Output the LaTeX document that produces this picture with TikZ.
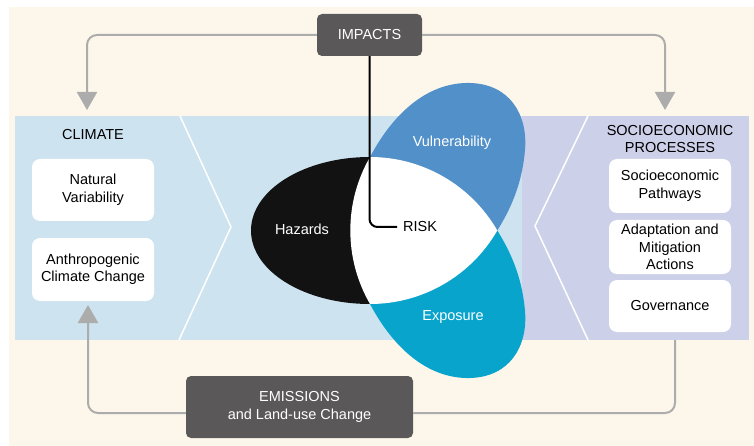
\documentclass[tikz,border=0pt]{standalone}
\usepackage{fontspec}
\setmainfont{Liberation Sans}
\usetikzlibrary{arrows.meta}
\definecolor{cream}{RGB}{253,247,235}
\definecolor{bandblue}{RGB}{205,227,240}
\definecolor{bandlav}{RGB}{205,208,233}
\definecolor{vulblue}{RGB}{81,144,200}
\definecolor{expblue}{RGB}{8,164,204}
\definecolor{boxgray}{RGB}{90,88,89}
\definecolor{linegray}{RGB}{172,172,172}

\begin{document}
\begin{tikzpicture}[x=1pt, y=-1pt,
	every node/.style={font=\fontsize{14.5}{17.5}\selectfont, align=center},
	whitebox/.style={fill=white, rounded corners=8pt, minimum width=122pt, inner sep=0pt},
	darkbox/.style={fill=boxgray, rounded corners=5pt, text=white, inner sep=0pt},
	loopline/.style={draw=linegray, line width=2pt, rounded corners=10pt},
	looptip/.style={-{Triangle[width=20pt,length=18pt,fill=linegray]}}]
	\useasboundingbox (0,0) rectangle (754,446);
	\fill [white] (0,0) rectangle (754,446);
	\fill [cream] (9,7) rectangle (754,446);
	
	% the band
	\fill [bandblue] (15,116) rectangle (522,340);
	\fill [bandlav] (522,116) rectangle (749,340);
	\draw [white, line width=1.5pt] (180,116)--(231,227)--(179,340);
	\draw [white, line width=1.5pt] (588,116)--(535,226)--(588,340);
	
	\node (climate) at (93,135) {CLIMATE};
	\node [whitebox, minimum height=62pt] (natvar) at (93,190) {Natural\\Variability};
	\node [whitebox, minimum height=63pt] (anthro) at (93,269.5) {Anthropogenic\\Climate Change};
	
	\node (socio) at (670,139) {SOCIOECONOMIC\\PROCESSES};
	\node [whitebox, minimum height=54pt] (pathways) at (670,186) {Socioeconomic\\Pathways};
	\node [whitebox, minimum height=54pt] (adapt) at (670,247) {Adaptation and\\Mitigation\\Actions};
	\node [whitebox, minimum height=52pt] (govern) at (670,306) {Governance};
	
	% hazards, vulnerability, exposure and risk
	\fill [black!93] (370,157) arc [start angle=-90, end angle=-270, x radius=119, y radius=73.5] -- cycle;
	\fill [vulblue] (370,157) .. controls (395,110) and (430,82) .. (470,83)
		.. controls (510,84) and (528,115) .. (525,150)
		.. controls (522,185) and (510,210) .. (497.3,230.5) -- cycle;
	\fill [expblue] (370,304) .. controls (395,351) and (430,379) .. (470,378)
		.. controls (510,377) and (528,346) .. (525,311)
		.. controls (522,276) and (510,251) .. (497.3,230.5) -- cycle;
	\fill [white] (370,157) arc [start angle=-90, end angle=-30, radius=147]
		arc [start angle=30, end angle=90, radius=147]
		arc [start angle=150, end angle=210, radius=147] -- cycle;
	
	\node [text=white] (hazards) at (302,229) {Hazards};
	\node [text=white] (vuln) at (452,143) {Vulnerability};
	\node [text=white] (expo) at (453,317) {Exposure};
	\node [anchor=west, inner xsep=6pt, inner ysep=2pt] (risk) at (397,227) {RISK};
	
	\node [darkbox, minimum width=105pt, minimum height=42pt] (impacts) at (369.5,35) {IMPACTS};
	\node [darkbox, minimum width=227pt, minimum height=62pt] (emis) at (299.5,407) {EMISSIONS\\and Land-use Change};
	
	\coordinate (climtip) at (87,110);
	\coordinate (socitip) at (665,110);
	\coordinate (socbot) at (675,340);
	\coordinate (anthtip) at (88,305);
	
	\draw [loopline, looptip] (impacts.west) -| (climtip);
	\draw [loopline, looptip] (impacts.east) -| (socitip);
	\draw [loopline] (socbot) |- ([yshift=-6pt]emis.east);
	\draw [loopline, looptip] ([yshift=-6pt]emis.west) -| (anthtip);
	
	\draw [line width=2pt, rounded corners=8pt] (impacts.south) |- (risk.west);
\end{tikzpicture}
\end{document}
